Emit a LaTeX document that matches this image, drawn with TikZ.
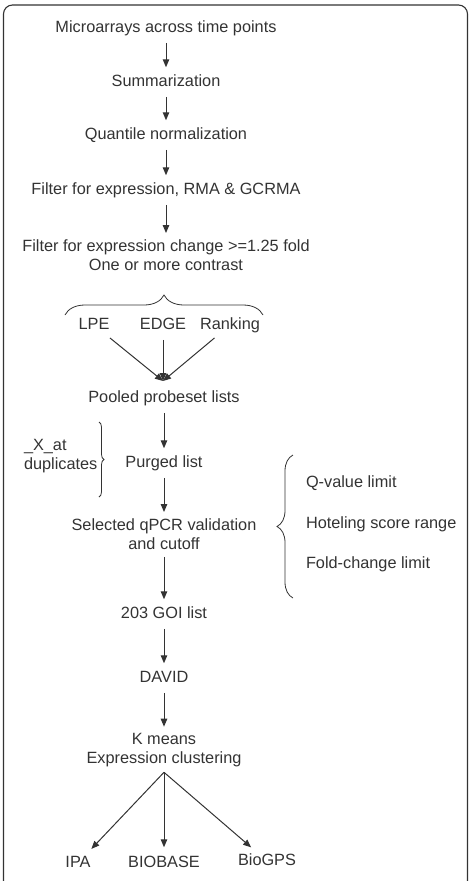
\documentclass[tikz,border=0pt]{standalone}
\usepackage{fontspec}
\setmainfont{Liberation Sans}
\usetikzlibrary{arrows.meta,decorations.pathreplacing,positioning}
\definecolor{inkgray}{HTML}{333333}
\newcommand*\labelsize{\fontsize{16.3}{19}\selectfont}
\newcommand*\nodegap{5pt}
\tikzset{
    stage/.style    = {font=\labelsize, text=inkgray, align=center,
                      inner sep=2pt, outer sep=0pt,
                      text height=12pt, text depth=3.5pt},
    twoline/.style  = {font=\labelsize, text=inkgray, align=center,
                      inner sep=2pt, outer sep=0pt},
    sidenote/.style = {twoline, align=left, anchor=west},
    flow/.style     = {draw=inkgray, line width=1pt,
                      -{Triangle[length=8pt,width=6.5pt]},
                      shorten <=\nodegap, shorten >=\nodegap},
    feed/.style     = {flow, shorten >=0pt},
    spread/.style   = {flow, shorten <=0pt, shorten >=6pt},
    curly/.style    = {draw=inkgray, line width=0.8pt, decorate,
                      decoration={brace, amplitude=#1}},
    frame/.style    = {draw=inkgray, line width=1.1pt, rounded corners=9pt},
  }

\begin{document}
\begin{tikzpicture}[x=1pt,y=-1pt]
        \useasboundingbox (0,0) rectangle (469,881);

        % Outer frame (open at the bottom)
        \draw[frame] (3.5,890) |- (467.5,5) -- (467.5,890);

        % Main column of steps
        \node[stage]   (micro)  at (166,28)    {Microarrays across time points};
        \node[stage]   (summ)   at (166,82)    {Summarization};
        \node[stage]   (quant)  at (166,135)   {Quantile normalization};
        \node[stage]   (rma)    at (166,190)   {Filter for expression, RMA \& GCRMA};
        \node[twoline] (fold)   at (166,255.5) {Filter for expression change >=1.25 fold\\One or more contrast};

        % Three methods under the brace
        \node[stage] (lpe)  at (94,325)  {LPE};
        \node[stage] (edge) at (163,325) {EDGE};
        \node[stage] (rank) at (230,325) {Ranking};
        \coordinate (join) at (163,381);

        \node[stage]   (pool)   at (164,398)   {Pooled probeset lists};
        \node[stage]   (purge)  at (164,463)   {Purged list};
        \node[twoline] (qpcr)   at (164,534.5) {Selected qPCR validation\\and cutoff};
        \node[stage]   (goi)    at (164,614)   {203 GOI list};
        \node[stage]   (david)  at (164,678)   {DAVID};
        \node[twoline] (kmeans) at (164,750.5) {K means\\Expression clustering};
        \coordinate[below=3pt of kmeans.south] (fork);

        % Final tools
        \node[stage] (ipa)     at (78,863)  {IPA};
        \node[stage] (biobase) at (164,863) {BIOBASE};
        \node[stage] (biogps)  at (267,861) {BioGPS};

        % Side notes
        \node[sidenote] (dup) at (22,456) {\_X\_at\\duplicates};
        \foreach \t [count=\i from 1] in {Q-value limit,Hoteling score range,Fold-change limit} {
            \node[stage, anchor=west] (crit-\i) at (304,443+40.5*\i) {\t};
        }

        % Braces
        \draw[curly=20pt] (65,315) -- (263,315);
        \draw[curly=5pt]  (99,422) -- (99,497);
        \draw[curly=16pt] (293,598) -- (293,455);

        % Arrows down the main column
        \foreach \a/\b in {micro/summ,summ/quant,quant/rma,rma/fold,
                           pool/purge,purge/qpcr,qpcr/goi,goi/david,david/kmeans} {
            \draw[flow] (\a) -- (\b);
        }

        % Methods merge into the pooled list
        \foreach \m in {lpe,edge,rank} {
            \draw[feed] (\m) -- (join);
        }

        % Clusters fan out to the tools
        \foreach \t in {ipa,biobase,biogps} {
            \draw[spread] (fork) -- (\t);
        }
    \end{tikzpicture}
\end{document}
